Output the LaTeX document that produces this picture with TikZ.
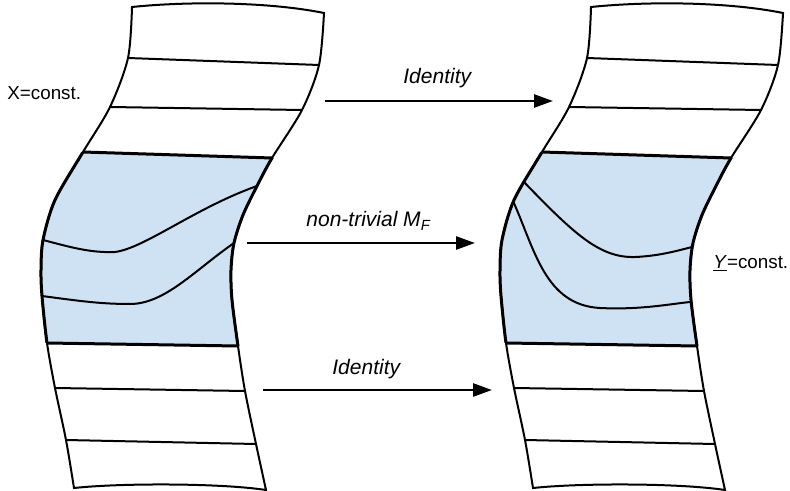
\documentclass[tikz,border=0pt]{standalone}
\usepackage{fontspec}
\setmainfont{Liberation Sans}
\usetikzlibrary{arrows.meta, calc}

\definecolor{bandblue}{RGB}{207,226,243}
\tikzset{
  thinline/.style={line width=1pt},
  thickline/.style={line width=1.5pt},
  maparrow/.style={-{Triangle[length=9.5pt,width=6.5pt]}, line width=1.3pt},
  sidelabel/.style={inner sep=0pt, font=\fontsize{9.4}{11}\selectfont},
  maplabel/.style={inner sep=0pt, font=\fontsize{10.5}{12}\selectfont\itshape}
}
\newcommand{\stripoutline}{(132,7) .. controls (190,1) and (270,2) .. (324,13)
  -- plot[smooth] coordinates {(324,13) (319,65) (302,110) (272,158) (257,186) (243,215) (234,243) (231,270) (232,300) (238,346) (245,391) (256,444) (266,490)}
  .. controls (220,483) and (120,483) .. (74,488)
  -- plot[smooth] coordinates {(74,488) (66,440) (55,388) (47,343) (42,296) (41,270) (43,240) (55,200) (83,152) (110,107) (128,58) (132,7)} -- cycle}

\begin{document}
\begin{tikzpicture}[x=0.5pt, y=-0.5pt]
  \useasboundingbox (0,0) rectangle (790,491);
  \foreach \dx in {0,459} {
    \begin{scope}[shift={(\dx,0)}]
      \begin{scope}
        \clip ($(83,152)!-1!(272,158)$) -- ($(272,158)!-1!(83,152)$) -- ($(238,346)!-1!(47,343)$) -- ($(47,343)!-1!(238,346)$) -- cycle;
        \fill[bandblue] \stripoutline;
        \draw[thickline] \stripoutline;
      \end{scope}
      \draw[thinline] \stripoutline;
      \draw[thinline] (128,58) -- (319,65) (110,107) -- (302,110) (55,388) -- (245,391) (66,440) -- (256,444);
      \draw[thickline] (83,152) -- (272,158) (47,343) -- (238,346);
    \end{scope}
  }
  \draw[thinline] (43,240) .. controls (70,247) and (90,253) .. (115,252) .. controls (145,248) and (195,208) .. (257,186);
  \draw[thinline] (42,296) .. controls (80,301) and (100,304) .. (130,304) .. controls (165,304) and (195,270) .. (234,243);
  \draw[thinline] (523,181) .. controls (575,235) and (600,258) .. (635,257) .. controls (660,256) and (680,250) .. (692,247);
  \draw[thinline] (513,201) .. controls (535,250) and (545,305) .. (600,308) .. controls (640,310) and (670,304) .. (690,302);

  \coordinate (idtop-s) at (325,101);
  \coordinate (idtop-e) at (553,101);
  \coordinate (mf-s) at (247,243);
  \coordinate (mf-e) at (475,243);
  \coordinate (idbot-s) at (263,390);
  \coordinate (idbot-e) at (492,390);
  \draw[maparrow] (idtop-s) -- (idtop-e);
  \draw[maparrow] (mf-s) -- (mf-e);
  \draw[maparrow] (idbot-s) -- (idbot-e);

  \node[sidelabel, anchor=base west] (xlabel) at (7,100) {X=const.};
  \node[maplabel, anchor=base west] (idtop) at (403,84) {Identity};
  \node[maplabel, anchor=base west] (mflabel) at (306,227) {non-trivial M\textsubscript{F}};
  \node[maplabel, anchor=base west] (idbot) at (332,374) {Identity};
  \node[sidelabel, anchor=base west] (ylabel) at (713,268) {\underline{\textit{Y}}=const.};
\end{tikzpicture}
\end{document}
